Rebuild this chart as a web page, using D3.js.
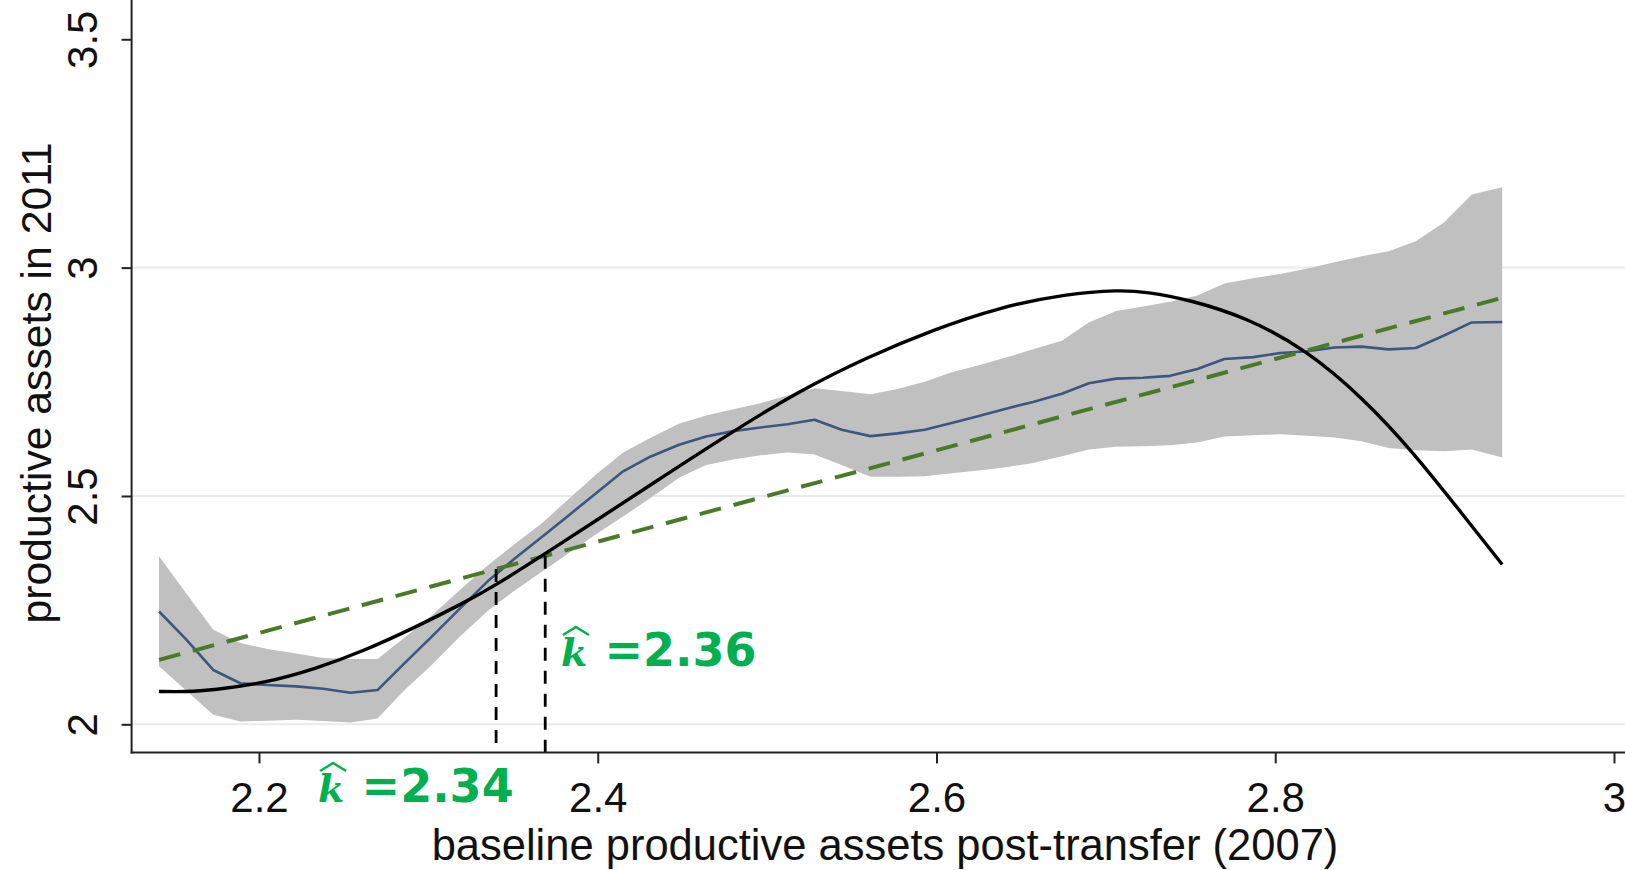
<!DOCTYPE html>
<html>
<head>
<meta charset="utf-8">
<script src="https://cdn.jsdelivr.net/npm/d3@7"></script>
<style>
  html, body { margin: 0; padding: 0; background: #fff; overflow: hidden; }
  svg { display: block; }
</style>
</head>
<body>
<svg id="chart" width="1625" height="870"></svg>
<script>
// ---------- data ----------
const gridX = [2.141, 2.157, 2.173, 2.189, 2.205, 2.222, 2.238, 2.254, 2.270, 2.286,
               2.302, 2.318, 2.335, 2.351, 2.367, 2.383, 2.399, 2.415, 2.431, 2.448,
               2.464, 2.480, 2.496, 2.512, 2.528, 2.544, 2.561, 2.577, 2.593, 2.609,
               2.625, 2.641, 2.657, 2.674, 2.690, 2.706, 2.722, 2.738, 2.754, 2.770,
               2.787, 2.803, 2.819, 2.835, 2.851, 2.867, 2.883, 2.900, 2.916, 2.934];
const meanY = [2.247, 2.186, 2.119, 2.090, 2.086, 2.083, 2.078, 2.069, 2.075, 2.134,
               2.192, 2.251, 2.313, 2.363, 2.410, 2.458, 2.506, 2.554, 2.586, 2.612,
               2.630, 2.642, 2.650, 2.657, 2.667, 2.645, 2.631, 2.637, 2.645, 2.660,
               2.675, 2.691, 2.706, 2.724, 2.747, 2.757, 2.759, 2.763, 2.778, 2.800,
               2.804, 2.813, 2.817, 2.825, 2.827, 2.821, 2.824, 2.852, 2.880, 2.881];
const lowerY = [2.127, 2.074, 2.021, 2.006, 2.008, 2.010, 2.007, 2.004, 2.013, 2.075,
                2.130, 2.190, 2.248, 2.293, 2.334, 2.375, 2.416, 2.455, 2.495, 2.540,
                2.568, 2.580, 2.589, 2.595, 2.591, 2.568, 2.542, 2.542, 2.543, 2.550,
                2.556, 2.563, 2.572, 2.587, 2.602, 2.608, 2.609, 2.611, 2.617, 2.630,
                2.633, 2.635, 2.632, 2.628, 2.620, 2.605, 2.600, 2.598, 2.602, 2.584];
const upperY = [2.368, 2.287, 2.207, 2.178, 2.165, 2.155, 2.145, 2.143, 2.143, 2.190,
                2.238, 2.292, 2.348, 2.395, 2.440, 2.494, 2.547, 2.595, 2.627, 2.658,
                2.676, 2.690, 2.703, 2.720, 2.736, 2.730, 2.723, 2.734, 2.750, 2.771,
                2.786, 2.803, 2.821, 2.840, 2.880, 2.905, 2.915, 2.925, 2.939, 2.965,
                2.977, 2.986, 2.998, 3.012, 3.025, 3.036, 3.058, 3.100, 3.160, 3.176];

const fitX = [2.141, 2.157, 2.173, 2.203, 2.234, 2.262, 2.291, 2.321, 2.340, 2.370,
              2.399, 2.431, 2.480, 2.519, 2.559, 2.598, 2.637, 2.677, 2.708, 2.724,
              2.749, 2.783, 2.818, 2.852, 2.881, 2.911, 2.934];
const fitY = [2.072, 2.071, 2.075, 2.090, 2.122, 2.161, 2.210, 2.266, 2.305, 2.376,
              2.446, 2.524, 2.642, 2.730, 2.804, 2.864, 2.913, 2.943, 2.951, 2.947,
              2.930, 2.891, 2.821, 2.714, 2.598, 2.458, 2.350];

const diagX = [2.141, 2.934];
const diagY = [2.141, 2.934];

const kValues = [2.340, 2.369];
const kLabels = ["=2.34", "=2.36"];

const xTicks = [2.2, 2.4, 2.6, 2.8, 3];
const yTicks = [2, 2.5, 3, 3.5];
const yGrid = [2, 2.5, 3];

const xTitle = "baseline productive assets post-transfer (2007)";
const yTitle = "productive assets in 2011";

// ---------- layout ----------
const svg = d3.select("#chart");
const W = 1625;
const x = d3.scaleLinear().domain([2.1248, 3.0065]).range([131.6, 1625]);
const y = d3.scaleLinear().domain([1.9385, 3.586]).range([752.4, 0]);
const x0 = x.range()[0], yBottom = y.range()[0];
const sans = "'Liberation Sans', Arial, Helvetica, sans-serif";

// gridlines
svg.append("g").selectAll("line").data(yGrid).join("line")
  .attr("x1", x0).attr("x2", W)
  .attr("y1", d => y(d)).attr("y2", d => y(d))
  .attr("stroke", "#eaeaea").attr("stroke-width", 2);

// band
const bandData = gridX.map((gx, i) => ({x: gx, lo: lowerY[i], hi: upperY[i], m: meanY[i]}));
svg.append("path").datum(bandData)
  .attr("d", d3.area().x(d => x(d.x)).y0(d => y(d.lo)).y1(d => y(d.hi)))
  .attr("fill", "#c0c0c0");

// mean line
svg.append("path").datum(bandData)
  .attr("d", d3.line().x(d => x(d.x)).y(d => y(d.m)))
  .attr("fill", "none").attr("stroke", "#3c5680").attr("stroke-width", 2.6)
  .attr("stroke-linejoin", "round");

// 45-degree dashed line
svg.append("path").datum(diagX.map((d, i) => [d, diagY[i]]))
  .attr("d", d3.line().x(d => x(d[0])).y(d => y(d[1])))
  .attr("fill", "none").attr("stroke", "#4a7a28").attr("stroke-width", 4)
  .attr("stroke-dasharray", "22,13");

// fitted polynomial
svg.append("path").datum(fitX.map((d, i) => [d, fitY[i]]))
  .attr("d", d3.line().curve(d3.curveBasis).x(d => x(d[0])).y(d => y(d[1])))
  .attr("fill", "none").attr("stroke", "#000").attr("stroke-width", 3.4);

// vertical k lines
svg.append("g").selectAll("line").data(kValues).join("line")
  .attr("x1", d => x(d)).attr("x2", d => x(d))
  .attr("y1", d => y(d)).attr("y2", yBottom)
  .attr("stroke", "#000").attr("stroke-width", 2.8)
  .attr("stroke-dasharray", "13,10");

// axes
const yAxis = svg.append("g").attr("transform", `translate(${x0},0)`)
  .call(d3.axisLeft(y).tickValues(yTicks).tickSize(10).tickSizeOuter(0).tickFormat(d => String(d)));
yAxis.select(".domain").remove();
yAxis.selectAll(".tick line").attr("stroke", "#222").attr("stroke-width", 2);
yAxis.selectAll(".tick text")
  .attr("x", null).attr("dy", null)
  .attr("transform", "translate(-34.6,0) rotate(-90)")
  .attr("text-anchor", "middle")
  .attr("font-family", sans)
  .attr("font-size", 42).attr("fill", "#111");

const xAxis = svg.append("g").attr("transform", `translate(0,${yBottom})`)
  .call(d3.axisBottom(x).tickValues(xTicks).tickSize(11).tickSizeOuter(0).tickFormat(d => String(d)));
xAxis.select(".domain").remove();
xAxis.selectAll(".tick line").attr("stroke", "#222").attr("stroke-width", 2);
xAxis.selectAll(".tick text")
  .attr("y", 59.5).attr("dy", null)
  .attr("font-family", sans)
  .attr("font-size", 42).attr("fill", "#111");

// axis lines
svg.append("line").attr("x1", x0).attr("x2", x0).attr("y1", 0).attr("y2", yBottom + 1)
  .attr("stroke", "#222").attr("stroke-width", 2);
svg.append("line").attr("x1", x0 - 1).attr("x2", W).attr("y1", yBottom).attr("y2", yBottom)
  .attr("stroke", "#222").attr("stroke-width", 2);

// axis titles
svg.append("text").text(xTitle)
  .attr("x", 885).attr("y", 860).attr("text-anchor", "middle")
  .attr("font-family", sans)
  .attr("font-size", 43.5).attr("fill", "#111");
svg.append("text").text(yTitle)
  .attr("transform", "translate(51,383) rotate(-90)").attr("text-anchor", "middle")
  .attr("font-family", sans)
  .attr("font-size", 42.7).attr("fill", "#111");

// k-hat annotations
const green = "#00b050";
const kAnno = [
  {k: kValues[0], label: kLabels[0], dx: -177, base: 802},
  {k: kValues[1], label: kLabels[1], dx: 16.7, base: 666}
];
kAnno.forEach(a => {
  const sx = x(a.k) + a.dx;
  svg.append("text").text("k")
    .attr("x", sx - 1).attr("y", a.base)
    .attr("font-family", "'DejaVu Serif', serif")
    .attr("font-style", "italic").attr("font-weight", "bold")
    .attr("font-size", 38).attr("fill", green);
  svg.append("path")
    .attr("d", `M${sx + 1},${a.base - 31} L${sx + 14},${a.base - 39} L${sx + 27},${a.base - 31}`)
    .attr("fill", "none").attr("stroke", green).attr("stroke-width", 2.4);
  svg.append("text").text(a.label)
    .attr("x", sx + 42.5).attr("y", a.base)
    .attr("font-family", "'DejaVu Sans', Verdana, sans-serif")
    .attr("font-weight", "bold")
    .attr("font-size", 46).attr("fill", green);
});
</script>
</body>
</html>
